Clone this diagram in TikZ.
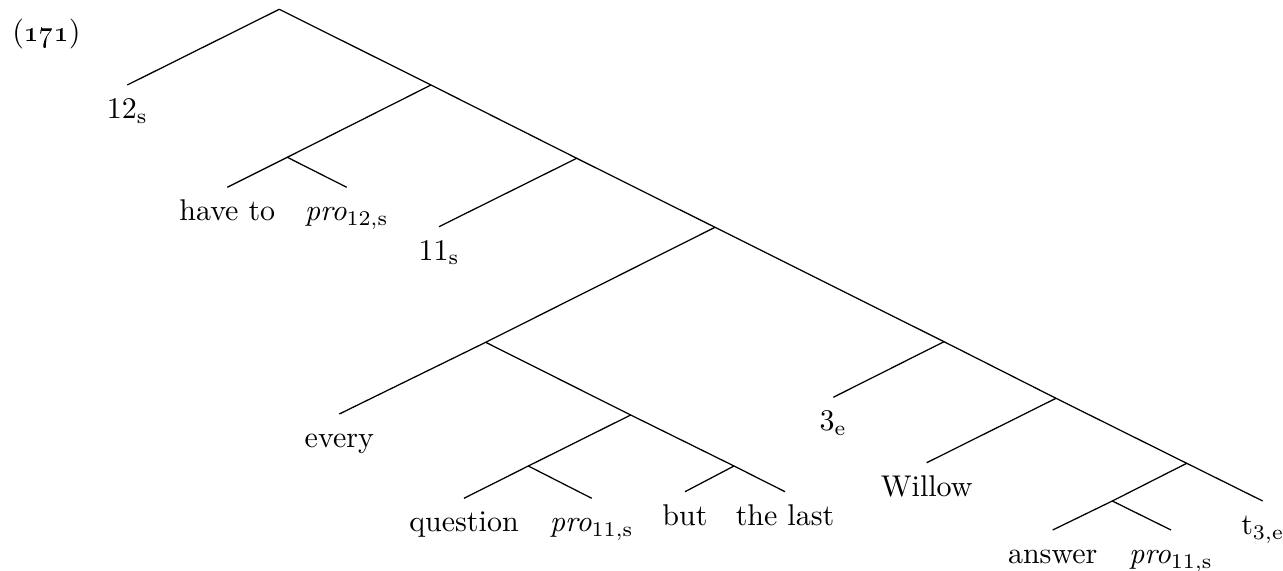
\documentclass[tikz,border=0pt]{standalone}
\begin{document}
\begin{tikzpicture}[x=0.3333pt,y=-0.3333pt,
  lbl/.style={anchor=base, inner sep=0pt, yshift=-11.2pt},
  edge/.style={draw, line width=0.42pt}]
\useasboundingbox (0,0) rectangle (1283,571);
\node[anchor=base west, inner sep=0pt] (ex) at (11.7,42) {(\oldstylenums{171})};
% tree points
\coordinate (R) at (279.3,9.3);
\coordinate (l12) at (127.3,85);
\coordinate (n1) at (431,85);
\coordinate (n1L) at (287.3,157.3);
\coordinate (lhave) at (227.3,187.3);
\coordinate (lpro12) at (346.7,187.3);
\coordinate (n2) at (576.7,158.3);
\coordinate (l11) at (439,226.7);
\coordinate (n3) at (715,227.3);
\coordinate (n4) at (485.7,342.3);
\coordinate (levery) at (339.3,414);
\coordinate (n5) at (630.7,415);
\coordinate (n6) at (528.3,466);
\coordinate (lq) at (464,498.3);
\coordinate (lpro11a) at (591.7,498.3);
\coordinate (n7) at (734,466);
\coordinate (lbut) at (685,491.7);
\coordinate (llast) at (785,491.7);
\coordinate (n8) at (944,341.7);
\coordinate (l3) at (833.3,397.3);
\coordinate (n9) at (1056,398.3);
\coordinate (lwillow) at (926.7,462.7);
\coordinate (n10) at (1186.7,463.3);
\coordinate (n11) at (1112.3,501);
\coordinate (lanswer) at (1052.7,530);
\coordinate (lpro11b) at (1171,530);
\coordinate (lt) at (1262.7,501);
% labels
\node[lbl] (t12) at (l12) {$12_{\mathrm{s}}$};
\node[lbl] (thave) at (lhave) {have to};
\node[lbl] (tpro12) at (lpro12) {\textit{pro}$_{12,\mathrm{s}}$};
\node[lbl] (t11) at (l11) {$11_{\mathrm{s}}$};
\node[lbl] (tevery) at (levery) {every};
\node[lbl] (tq) at (lq) {question};
\node[lbl] (tpro11a) at (lpro11a) {\textit{pro}$_{11,\mathrm{s}}$};
\node[lbl] (tbut) at (lbut) {but};
\node[lbl] (tlast) at (llast) {the last};
\node[lbl] (t3) at (l3) {$3_{\mathrm{e}}$};
\node[lbl] (twillow) at (lwillow) {Willow};
\node[lbl] (tanswer) at (lanswer) {answer};
\node[lbl] (tpro11b) at (lpro11b) {\textit{pro}$_{11,\mathrm{s}}$};
\node[lbl] (tt) at (lt) {$\mathrm{t}_{3,\mathrm{e}}$};
% edges
\path[edge] (R) -- (n1) -- (n2) -- (n3) -- (n8) -- (n9) -- (n10) -- (lt);
\path[edge] (R) -- (l12);
\path[edge] (n1) -- (n1L);
\path[edge] (n1L) -- (lhave);
\path[edge] (n1L) -- (lpro12);
\path[edge] (n2) -- (l11);
\path[edge] (n3) -- (n4);
\path[edge] (n4) -- (levery);
\path[edge] (n4) -- (n5);
\path[edge] (n5) -- (n6);
\path[edge] (n6) -- (lq);
\path[edge] (n6) -- (lpro11a);
\path[edge] (n5) -- (n7);
\path[edge] (n7) -- (lbut);
\path[edge] (n7) -- (llast);
\path[edge] (n8) -- (l3);
\path[edge] (n9) -- (lwillow);
\path[edge] (n10) -- (n11);
\path[edge] (n11) -- (lanswer);
\path[edge] (n11) -- (lpro11b);
\end{tikzpicture}
\end{document}
